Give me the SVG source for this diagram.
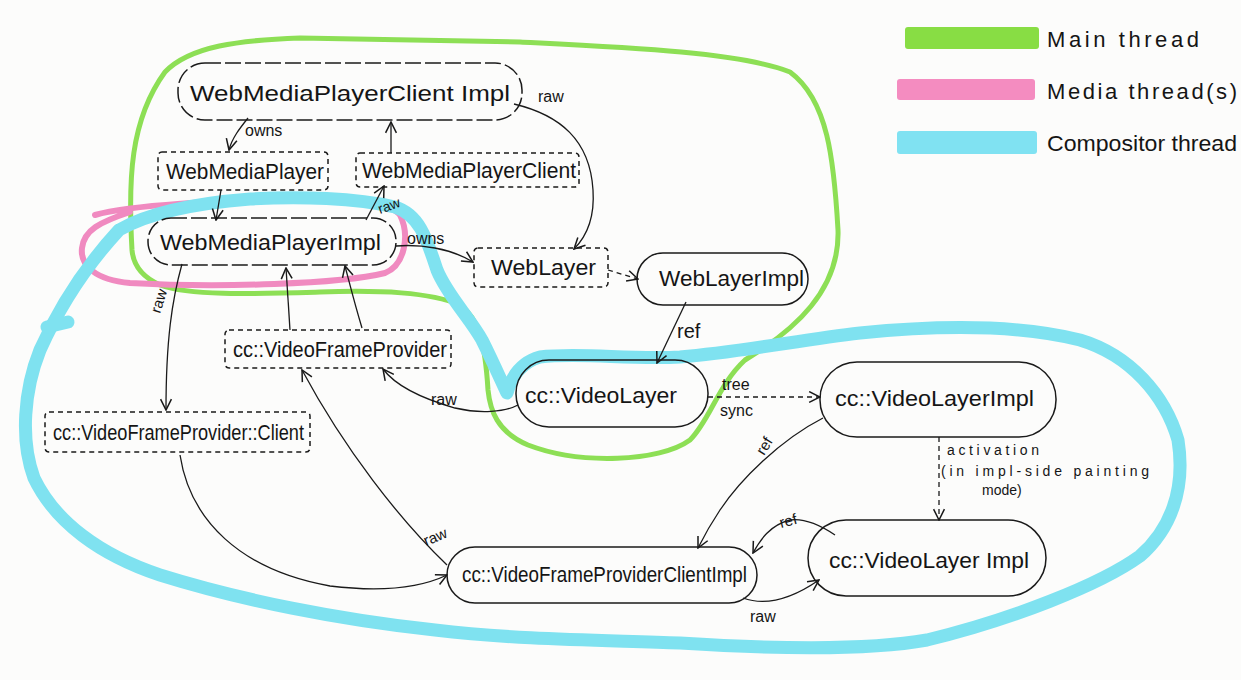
<svg xmlns="http://www.w3.org/2000/svg" width="1241" height="680" viewBox="0 0 1241 680">
<style>
.bg{fill:#fcfcfb}
.hl{fill:none;stroke-linecap:round;stroke-linejoin:round}
.green{stroke:#8ddf55;stroke-width:5}
.pink{stroke:#f08ac0;stroke-width:6}
.cyan{stroke:#7fe2f0;stroke-width:13}
.node{fill:none;stroke:#1a1a1a;stroke-width:1.5}
.longdash{stroke-dasharray:16 4}
.iface{stroke-dasharray:5 4}
.lbl{font-family:"Liberation Sans",Arial,sans-serif;fill:#151515}
.nt{font-size:22px;text-anchor:start}
.sm{font-size:16px}
.edge{fill:none;stroke:#1a1a1a;stroke-width:1.3}
.dash{stroke-dasharray:5 4}
</style>
<defs>
<marker id="arr" viewBox="0 0 12 12" refX="11" refY="6" markerWidth="13" markerHeight="13" orient="auto" markerUnits="userSpaceOnUse">
<path d="M1,1 L11,6 L1,11" fill="none" stroke="#1a1a1a" stroke-width="1.4"/>
</marker>
</defs>
<rect class="bg" x="0" y="0" width="1241" height="680"/>

<g id="highlights">
<path class="hl green" d="M132,250 C128,180 130,120 165,72 C190,46 240,40 300,38 L520,42 C620,47 740,52 790,72 C828,100 834,160 838,230 C840,290 795,330 745,360 C718,385 710,420 690,440 C660,462 580,465 528,445 C497,432 490,410 488,390 C485,340 478,318 460,305 C430,292 380,290 320,292 C250,294 190,296 160,285 C140,276 133,262 132,250 Z"/>
<path class="hl pink" d="M95,215 C130,205 220,200 300,199 C350,199 390,202 400,215 C410,235 405,265 385,273 C340,284 220,288 130,283 C95,280 80,265 82,248 C84,230 100,222 130,212"/>
<path class="hl cyan" d="M119,230 C150,212 198,203 250,199 C300,196 356,198 395,207 C420,215 427,240 437,270 C447,295 470,318 482,340 C492,360 500,378 507,393 C512,375 522,362 540,357 C580,352 630,360 680,357 C740,352 800,340 860,333 C940,325 1020,325 1080,340 C1130,355 1165,395 1178,440 C1186,490 1170,530 1140,556 C1100,585 1010,620 927,640 C860,652 760,648 680,643 C600,640 520,640 435,630 C340,620 240,600 160,575 C100,555 55,522 34,478 C20,440 24,390 40,350 C58,310 82,270 119,230"/>
<path class="hl cyan" d="M47,327 L68,322"/>
</g>

<g id="legend">
<rect x="905" y="27" width="134" height="22" fill="#88dd44" rx="3"/>
<rect x="897" y="79" width="138" height="21" fill="#f48cc0" rx="3"/>
<rect x="897" y="131" width="140" height="23" fill="#80e2f2" rx="3"/>
<text class="lbl" x="1047" y="47" font-size="22" textLength="152" lengthAdjust="spacing">Main thread</text>
<text class="lbl" x="1047" y="99" font-size="22" textLength="190" lengthAdjust="spacing">Media thread(s)</text>
<text class="lbl" x="1047" y="151" font-size="22" textLength="190" lengthAdjust="spacingAndGlyphs">Compositor thread</text>
</g>

<g id="connectors">
<path class="edge" d="M248,118 C240,128 232,138 229,150" marker-end="url(#arr)"/>
<text class="lbl sm" x="245" y="136">owns</text>
<path class="edge" d="M391,153 L391,122" marker-end="url(#arr)"/>
<path class="edge" d="M514,104 C560,115 590,140 593,190 C595,220 585,238 574,249" marker-end="url(#arr)"/>
<text class="lbl sm" x="538" y="102">raw</text>
<path class="edge" d="M221,190 L216,220" marker-end="url(#arr)"/>
<path class="edge" d="M366,220 L384,186" marker-end="url(#arr)"/>
<text class="lbl" font-size="14" transform="translate(380,214) rotate(-20)">raw</text>
<path class="edge" d="M396,246 C420,244 450,248 473,262" marker-end="url(#arr)"/>
<text class="lbl sm" x="407" y="244">owns</text>
<path class="edge dash" d="M608,270 L638,279" marker-end="url(#arr)"/>
<path class="edge" d="M686,302 L657,363" marker-end="url(#arr)"/>
<text class="lbl" font-size="20" x="677" y="338">ref</text>
<path class="edge" d="M518,405 C505,412 480,414 455,408 C420,398 395,385 383,369" marker-end="url(#arr)"/>
<text class="lbl sm" x="431" y="405">raw</text>
<path class="edge" d="M290,330 L286,268" marker-end="url(#arr)"/>
<path class="edge" d="M362,328 C355,305 350,285 345,266" marker-end="url(#arr)"/>
<path class="edge" d="M182,264 C172,300 166,340 166,410" marker-end="url(#arr)"/>
<text class="lbl" font-size="15" transform="translate(160,314) rotate(-72)">raw</text>
<path class="edge" d="M180,455 C190,520 240,570 330,586 C380,592 420,588 447,575" marker-end="url(#arr)"/>
<path class="edge" d="M447,565 C400,520 345,450 302,370" marker-end="url(#arr)"/>
<text class="lbl" font-size="15" transform="translate(426,546) rotate(-22)">raw</text>
<path class="edge dash" d="M708,397 L820,397" marker-end="url(#arr)"/>
<text class="lbl sm" x="722" y="390">tree</text>
<text class="lbl sm" x="720" y="416">sync</text>
<path class="edge" d="M823,418 C780,440 740,480 720,510 C710,525 703,538 698,548" marker-end="url(#arr)"/>
<text class="lbl" font-size="15" transform="translate(764,456) rotate(-58)">ref</text>
<path class="edge dash" d="M939,437 L939,520" marker-end="url(#arr)"/>
<text class="lbl" font-size="14" x="947" y="455" textLength="92" lengthAdjust="spacing">activation</text>
<text class="lbl" font-size="14" x="941" y="476" textLength="208" lengthAdjust="spacing">(in   impl-side  painting</text>
<text class="lbl" font-size="14" x="982" y="495">mode)</text>
<path class="edge" d="M835,535 C820,525 805,518 790,520 C770,525 760,540 753,553" marker-end="url(#arr)"/>
<text class="lbl" font-size="15" transform="translate(781,528) rotate(-15)">ref</text>
<path class="edge" d="M743,598 C765,606 790,600 819,580" marker-end="url(#arr)"/>
<text class="lbl sm" x="750" y="622">raw</text>
</g>

<g id="WebMediaPlayerClientImpl">
<rect class="node longdash" x="178" y="63" width="344" height="57" rx="27"/>
<text class="lbl nt" x="190" y="101" font-size="24" textLength="320" lengthAdjust="spacingAndGlyphs">WebMediaPlayerClient Impl</text>
</g>
<g id="WebMediaPlayer">
<rect class="node iface" x="158" y="152" width="170" height="38" rx="4"/>
<text class="lbl nt" x="166" y="179" textLength="158" lengthAdjust="spacingAndGlyphs">WebMediaPlayer</text>
</g>
<g id="WebMediaPlayerClient">
<rect class="node iface" x="356" y="153" width="223" height="34" rx="4"/>
<text class="lbl nt" x="362" y="178" textLength="214" lengthAdjust="spacingAndGlyphs">WebMediaPlayerClient</text>
</g>
<g id="WebMediaPlayerImpl">
<rect class="node longdash" x="148" y="218" width="248" height="47" rx="23"/>
<text class="lbl nt" x="160" y="250" textLength="221" lengthAdjust="spacingAndGlyphs">WebMediaPlayerImpl</text>
</g>
<g id="WebLayer">
<rect class="node iface" x="474" y="248" width="134" height="39" rx="4"/>
<text class="lbl nt" x="491" y="275" textLength="105" lengthAdjust="spacingAndGlyphs">WebLayer</text>
</g>
<g id="WebLayerImpl">
<rect class="node" x="637" y="253" width="171" height="52" rx="26"/>
<text class="lbl nt" x="659" y="286" textLength="145" lengthAdjust="spacingAndGlyphs">WebLayerImpl</text>
</g>
<g id="VideoFrameProvider">
<rect class="node iface" x="225" y="330" width="226" height="38" rx="4"/>
<text class="lbl nt" x="233" y="357" font-size="20" textLength="214" lengthAdjust="spacingAndGlyphs">cc::VideoFrameProvider</text>
</g>
<g id="VideoLayer">
<rect class="node" x="516" y="360" width="192" height="67" rx="33"/>
<text class="lbl nt" x="525" y="403" font-size="24" textLength="152" lengthAdjust="spacingAndGlyphs">cc::VideoLayer</text>
</g>
<g id="VideoLayerImplPending">
<rect class="node" x="820" y="362" width="236" height="75" rx="37"/>
<text class="lbl nt" x="835" y="406" font-size="24" textLength="199" lengthAdjust="spacingAndGlyphs">cc::VideoLayerImpl</text>
</g>
<g id="VideoFrameProviderClient">
<rect class="node iface" x="45" y="412" width="265" height="40" rx="4"/>
<text class="lbl nt" x="53" y="440" font-size="20" textLength="251" lengthAdjust="spacingAndGlyphs">cc::VideoFrameProvider::Client</text>
</g>
<g id="VideoFrameProviderClientImpl">
<rect class="node" x="447" y="547" width="310" height="56" rx="28"/>
<text class="lbl nt" x="462" y="582" font-size="22" textLength="285" lengthAdjust="spacingAndGlyphs">cc::VideoFrameProviderClientImpl</text>
</g>
<g id="VideoLayerImplActive">
<rect class="node" x="808" y="520" width="238" height="76" rx="38"/>
<text class="lbl nt" x="829" y="568" font-size="27" textLength="200" lengthAdjust="spacingAndGlyphs">cc::VideoLayer Impl</text>
</g>
</svg>
